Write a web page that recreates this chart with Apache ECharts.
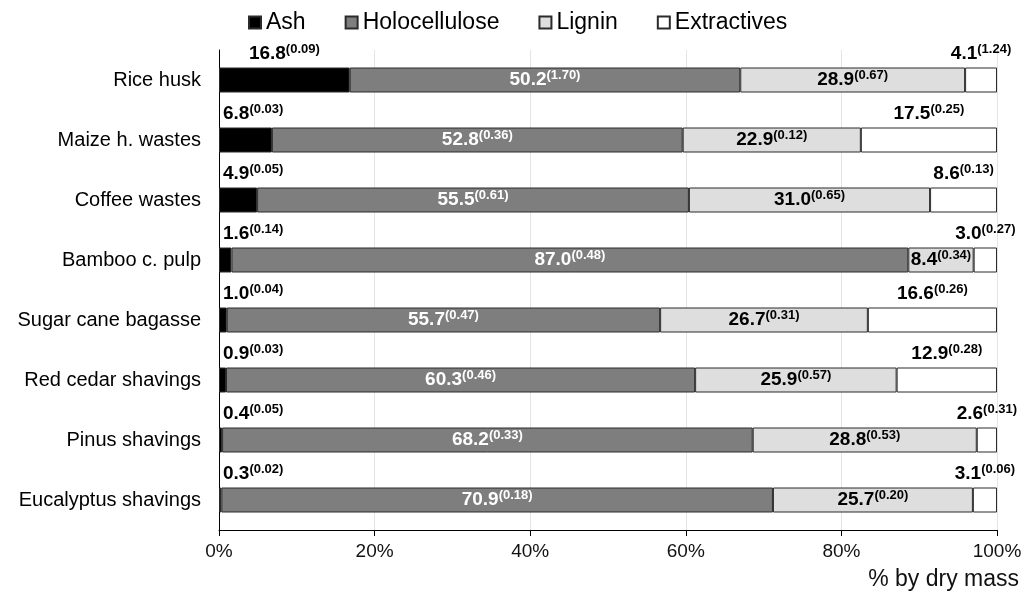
<!DOCTYPE html>
<html>
<head>
<meta charset="utf-8">
<script src="https://cdn.jsdelivr.net/npm/echarts@6/dist/echarts.min.js"></script>
<style>html,body{margin:0;padding:0;background:#fff;}#c{width:1031px;height:596px;}</style>
</head>
<body>
<div id="c"></div>
<script>
const categories = ['Rice husk','Maize h. wastes','Coffee wastes','Bamboo c. pulp','Sugar cane bagasse','Red cedar shavings','Pinus shavings','Eucalyptus shavings'];
const ash = [16.8,6.8,4.9,1.6,1.0,0.9,0.4,0.3];
const ashSd = [0.09,0.03,0.05,0.14,0.04,0.03,0.05,0.02];
const holo = [50.2,52.8,55.5,87.0,55.7,60.3,68.2,70.9];
const holoSd = [1.70,0.36,0.61,0.48,0.47,0.46,0.33,0.18];
const lignin = [28.9,22.9,31.0,8.4,26.7,25.9,28.8,25.7];
const ligninSd = [0.67,0.12,0.65,0.34,0.31,0.57,0.53,0.20];
const extr = [4.1,17.5,8.6,3.0,16.6,12.9,2.6,3.1];
const extrSd = [1.24,0.25,0.13,0.27,0.26,0.28,0.31,0.06];
const xTicks = [0,20,40,60,80,100];

const FONT = '"Liberation Sans", Arial, sans-serif';
function rich(color){
  return {
    v:{fontFamily:FONT,fontSize:19,fontWeight:'bold',color:color,lineHeight:22},
    s:{fontFamily:FONT,fontSize:13,fontWeight:'bold',color:color,lineHeight:15,verticalAlign:'top',padding:[0,0,7,0]}
  };
}
function fmt(sd){
  return p => '{v|' + Number(p.value).toFixed(1) + '}{s|(' + sd[p.dataIndex].toFixed(2) + ')}';
}
const chart = echarts.init(document.getElementById('c'), null, {renderer:'canvas'});
const border = {borderColor:'#2b2b2b', borderWidth:1};
chart.setOption({
  animation:false,
  backgroundColor:'#fff',
  legend:{
    top:6, left:243, itemWidth:12, itemHeight:12, itemGap:39, icon:'rect',
    textStyle:{fontFamily:FONT,fontSize:23,color:'#000'}
  },
  grid:{left:219,right:34,top:50,bottom:66,containLabel:false},
  xAxis:{
    type:'value', min:0, max:100, interval:20,
    axisLine:{show:true,lineStyle:{color:'#000',width:1}},
    axisTick:{show:true,length:6,lineStyle:{color:'#000'}},
    splitLine:{show:true,lineStyle:{color:'#e4e4e4',width:1}},
    axisLabel:{fontFamily:FONT,fontSize:19,color:'#111',margin:12,formatter:v=>v+'%'}
  },
  yAxis:{
    type:'category', data:categories, inverse:true,
    axisLine:{show:true,lineStyle:{color:'#000',width:1}},
    axisTick:{show:false},
    axisLabel:{fontFamily:FONT,fontSize:20,color:'#000',margin:18}
  },
  graphic:[{
    type:'text', right:12, top:568,
    style:{text:'% by dry mass', font:'23px '+FONT, fill:'#111'}
  }],
  series:[
    {name:'Ash', type:'bar', stack:'t', barWidth:25,
     itemStyle:Object.assign({color:'#000'},border),
     data: ash.map(v => ({value:v, label: v > 10 ? {position:'top',distance:3} : {position:[4,-25]}})),
     label:{show:true, formatter:fmt(ashSd), rich:rich('#000')}},
    {name:'Holocellulose', type:'bar', stack:'t', barWidth:25,
     itemStyle:Object.assign({color:'#7e7e7e'},border),
     data: holo,
     label:{show:true, position:'inside', formatter:fmt(holoSd), rich:rich('#fff')}},
    {name:'Lignin', type:'bar', stack:'t', barWidth:25,
     itemStyle:Object.assign({color:'#dedede'},border),
     data: lignin,
     label:{show:true, position:'inside', formatter:fmt(ligninSd), rich:rich('#000')}},
    {name:'Extractives', type:'bar', stack:'t', barWidth:25,
     itemStyle:Object.assign({color:'#fff'},border),
     data: extr,
     label:{show:true, position:'top', distance:3, formatter:fmt(extrSd), rich:rich('#000')}}
  ]
});
</script>
</body>
</html>
